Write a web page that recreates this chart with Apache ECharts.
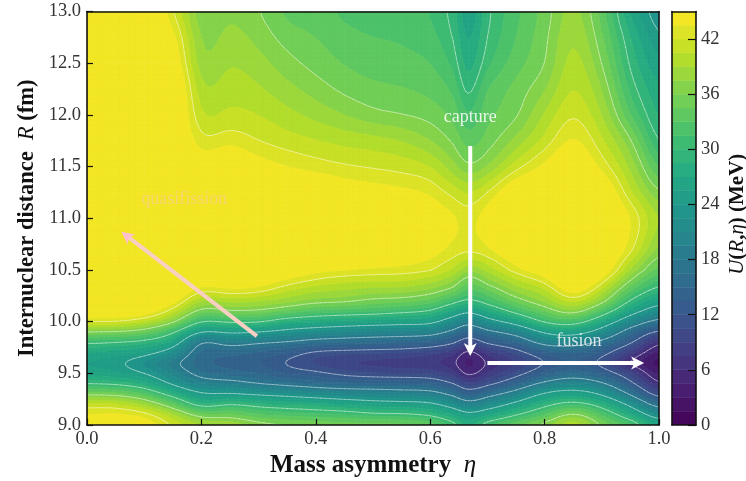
<!DOCTYPE html>
<html><head><meta charset="utf-8">
<style>html,body{margin:0;padding:0;background:#fff}#c{width:746px;height:481px}#c canvas{filter:blur(0.45px)}</style>
<script src="https://cdn.jsdelivr.net/npm/echarts@6/dist/echarts.min.js"></script>
</head><body><div id="c"></div>
<script>
const rows=[9.0,9.1,9.2,9.3,9.4,9.5,9.6,9.7,9.8,9.9,10.0,10.1,10.2,10.3,10.4,10.5,10.7,11.0,11.25,11.5,11.75,12.0,12.25,12.5,12.75,13.0];
const etas=[0,0.05,0.1,0.15,0.2,0.25,0.3,0.35,0.4,0.45,0.5,0.55,0.6,0.64,0.667,0.7,0.75,0.8,0.85,0.9,0.95,1.0];
const u000=[46,43.5,41,35.5,30,26.6,25.5,27,30.6,36,42,45.5,47,47,47,47,47,47,47,47,47,47,47,47,47,47];
const u005=[46,43.7,40.8,35.2,29.5,25.8,24.6,26.3,30,35.7,42,45.5,47,47,47,47,47,47,47,47,47,47,47,47,47,47];
const u010=[45,42.8,38.6,33,27.8,24,22.2,25.2,29,34.5,40.3,45,47,47,47,47,47,47,47,47,47,47,47,47,47,47];
const u015=[42,39.2,34,28.5,23.5,20.5,18.8,22,26.2,30.6,36.6,41,44.5,46.5,47,47,47,47,47,47,47,47,47,45.5,44.3,42];
const u020=[39.5,34.8,28.8,24.5,20,16.8,15.5,16,18,24,30,35,38.8,42.4,45,47,47,47,47,45,42.5,40.6,39.3,38,37.2,36.4];
const u025=[39,34.8,30,24.3,19.4,15.7,14.5,15.6,19.5,24.6,30.5,35.7,39.5,43,45.5,47,47,47,47,46,43,40.9,39.9,38.9,38,37.2];
const u030=[37.2,33.2,28.9,23.5,18,15,13.5,14.8,18.5,24,30.3,35.5,39,42.5,45,47,47,47,47,44.5,42,40.5,39.2,38.1,37,36];
const u035=[36.4,32.5,28.2,22.7,17,13.4,11.8,13.4,17.7,22.8,28,34,38,40.6,43.2,45.5,47,47,46,43.5,41.2,39.5,38,36.6,35.3,34];
const u040=[36,32,27.6,21.8,16,12.6,10.2,11.5,16.5,21.7,27.2,32.5,36.8,39.3,41.8,44,47,47,46,42.8,40.6,38.5,36.8,35.4,34.5,33.5];
const u045=[35.5,31.6,26.7,21,15.3,11.3,9.1,11,16,21,26.5,32,36.4,38.8,41,43.4,47,47,45,42.2,40,37.5,35.6,34.4,33.5,32.6];
const u050=[35.6,30.7,25.8,20.6,15.1,10.6,8.6,10.7,15.6,20.5,26,31.5,35.4,38.2,40.7,43,46.5,47,44.5,41.8,39.6,36.5,34.9,33.8,33,32.3];
const u055=[35.4,30.5,25.5,20,15,10.3,8.2,10.4,15.2,20.2,25.5,30.7,35,38,40.7,42.7,46,47,44,41.4,39,36,34.6,33.5,32.8,32.2];
const u060=[34.4,29.5,24.8,19.6,14.5,10,7.8,9.5,14.5,19.7,25,29.6,33.8,37,39.6,42,44.5,45,43.2,40.5,37.5,35.4,34,33,32,31.3];
const u064=[31.2,27,22.1,17,12,8.3,6.4,8,12.5,17,21.6,26.5,31,35,37.7,40,43,43.8,41.4,38,35.7,34,32.6,31,29.9,29.2];
const u067=[28.5,25,19.8,14.2,9.2,5.4,4,5.3,9.8,14.7,19.4,24.7,29.5,32.5,35,37.7,42.5,42.9,40.4,36.3,33.8,31.6,29.4,27.7,26.7,25.5];
const u070=[31.6,26.6,21.5,16.4,11,7.6,6.2,8,12.6,17,22.3,27,31.2,34.2,37,39.2,43.2,44.5,42,37.5,35.1,34,33,31,30,29.5];
const u075=[34.5,29.8,25.2,20,14.8,10.8,9,10.8,14.9,19.8,25.7,31,34.9,37.8,40.2,42.7,46,47,46,41.3,38,35.7,35,33.8,33,32.5];
const u080=[37,33,29,24.5,19,14.2,12,14,19.5,24.6,30.4,34.4,37.8,40,42.7,45,47,47,46,44,41,39.2,37.3,35.9,35.5,35];
const u085=[40.5,36.5,31.2,26,20.8,16,13.5,15,20,25.8,31.6,37,41,44.5,47,47,47,47,47,46,43.8,41.9,40.6,39.7,38.9,38];
const u090=[36,32.7,28.5,23.5,18.6,14,11.3,13.2,17,22,27,32.2,37,40,43,45.5,47,47,46,43,40.8,39,37.5,36,34.8,33.7];
const u095=[32.5,27.5,23,17.5,13,9.5,5.8,8.4,12.5,16,21,25.8,29.7,33,36,38.6,42.5,43.6,40.8,38.6,36.3,33,31,29.6,28.5,26.5];
const u100=[26.5,21.3,15.6,9.8,5.7,3.2,2,3.4,6,11,16.4,21.2,25.2,28.5,31,33.1,36.4,38.5,35.8,32.3,29.2,27.8,26.9,25.4,23.8,22.5];
const columns=[u000,u005,u010,u015,u020,u025,u030,u035,u040,u045,u050,u055,u060,u064,u067,u070,u075,u080,u085,u090,u095,u100];
const fillLevels=[0,1.5,3,4.5,6,7.5,9,10.5,12,13.5,15,16.5,18,19.5,21,22.5,24,25.5,27,28.5,30,31.5,33,34.5,36,37.5,39,40.5,42,43.5,45];
const lineLevels=[6,12,18,24,30,36,42];
const viridis=['#440154','#482475','#414487','#355f8d','#2a788e','#21918c','#22a884','#44bf70','#7ad151','#bddf26','#fde725'];
const arrows=[{from:[0.67,11.7],to:[0.67,9.667],line:'#ffffff',head:'#ffffff'},
              {from:[0.7,9.6],to:[0.974,9.6],line:'#ffffff',head:'#ffffff'},
              {from:[0.297,9.86],to:[0.06,10.87],line:'#f9cfc2',head:'#fbc0cb'}];
const notes=[{text:'capture',at:[0.67,11.98],color:'rgba(255,255,255,0.85)'},
             {text:'fusion',at:[0.86,9.81],color:'rgba(255,255,255,0.8)'},
             {text:'quasifission',at:[0.17,11.185],color:'rgba(255,192,203,0.45)'}];

const SERIF='"Liberation Serif",serif';
function hex(c){return [1,3,5].map(k=>parseInt(c.substr(k,2),16));}
function cmap(t){t=Math.max(0,Math.min(1,t))*10;const i=Math.min(9,Math.floor(t)),f=t-i,a=hex(viridis[i]),b=hex(viridis[i+1]);
  return 'rgb('+a.map((v,k)=>Math.round(v+(b[k]-v)*f)).join(',')+')';}
const VMAX=fillLevels[fillLevels.length-1];
const bandColors=fillLevels.slice(0,-1).map((l,k)=>cmap((l+fillLevels[k+1])/2/VMAX));

// Contouring helper: smooth surface through the read values, sampled inside each cell for drawing only
const NE=6,NR=5;
function tangents(xs,ys){const n=xs.length,m=[];for(let i=0;i<n;i++){
  if(i===0)m.push((ys[1]-ys[0])/(xs[1]-xs[0]));
  else if(i===n-1)m.push((ys[n-1]-ys[n-2])/(xs[n-1]-xs[n-2]));
  else m.push((ys[i+1]-ys[i-1])/(xs[i+1]-xs[i-1]));}return m;}
function herm(x0,x1,y0,y1,m0,m1,t){const h=x1-x0,t2=t*t,t3=t2*t;
  return (2*t3-3*t2+1)*y0+(t3-2*t2+t)*h*m0+(-2*t3+3*t2)*y1+(t3-t2)*h*m1;}
function refine(xs,ys,N){const m=tangents(xs,ys),o=[];for(let i=0;i<xs.length-1;i++)for(let s=0;s<N;s++)o.push(herm(xs[i],xs[i+1],ys[i],ys[i+1],m[i],m[i+1],s/N));o.push(ys[ys.length-1]);return o;}
const colFine=columns.map(c=>refine(rows,c,NR));
const nRf=colFine[0].length;
let surf=[];for(let r=0;r<nRf;r++){surf.push(refine(etas,colFine.map(c=>c[r]),NE));}
const kern=[1,2,3,2,1];
function blurLine(a){return a.map((_,i)=>{let s=0,w=0;kern.forEach((k,o)=>{const p=i+o-2;if(p>=0&&p<a.length){s+=k*a[p];w+=k;}});return s/w;});}
surf=surf.map(blurLine);
{const nc=surf[0].length;for(let c=0;c<nc;c++){const b=blurLine(surf.map(r=>r[c]));b.forEach((v,r)=>{surf[r][c]=v;});}}
function fineCoord(list,N,k){const i=Math.min(list.length-2,Math.floor(k/N)),s=k-i*N;return list[i]+(list[i+1]-list[i])*s/N;}
function clip(poly,lev,keepAbove){const o=[];for(let i=0;i<poly.length;i++){const a=poly[i],b=poly[(i+1)%poly.length];
  const ia=keepAbove?a[2]>=lev:a[2]<=lev, ib=keepAbove?b[2]>=lev:b[2]<=lev;
  if(ia)o.push(a);
  if(ia!==ib){const t=(lev-a[2])/(b[2]-a[2]);o.push([a[0]+(b[0]-a[0])*t,a[1]+(b[1]-a[1])*t,lev]);}}return o;}

const cellData=[];etas.forEach((e,i)=>rows.forEach((r,j)=>cellData.push([e,r,columns[i][j]])));

function renderCell(params,api){
  const nR=rows.length,idx=params.dataIndex,i=Math.floor(idx/nR),j=idx%nR;
  if(i>=etas.length-1||j>=nR-1)return null;
  const bandPaths={},linePaths={};
  const pt=(x,y)=>{const p=api.coord([x,y]);return p[0].toFixed(2)+' '+p[1].toFixed(2);};
  for(let a=0;a<NE;a++)for(let b=0;b<NR;b++){
    const ka=i*NE+a,kb=j*NR+b;
    const x0=fineCoord(etas,NE,ka),x1=fineCoord(etas,NE,ka+1),y0=fineCoord(rows,NR,kb),y1=fineCoord(rows,NR,kb+1);
    const cl=v=>Math.min(v,VMAX-0.001);
    const raw=[[x0,y0,surf[kb][ka]],[x1,y0,surf[kb][ka+1]],[x1,y1,surf[kb+1][ka+1]],[x0,y1,surf[kb+1][ka]]];
    const q=raw.map(v=>[v[0],v[1],cl(Math.max(v[2],0.001))]);
    const vs=q.map(v=>v[2]),mn=Math.min(...vs),mx=Math.max(...vs);
    for(let k=0;k<fillLevels.length-1;k++){
      const lo=fillLevels[k],hi=fillLevels[k+1];
      if(mx<lo||mn>=hi)continue;
      let poly=q;
      if(mn<lo)poly=clip(poly,lo,true);
      if(mx>hi)poly=clip(poly,hi,false);
      if(poly.length<3)continue;
      bandPaths[k]=(bandPaths[k]||'')+'M'+poly.map(p=>pt(p[0],p[1])).join('L')+'Z';
    }
    for(const L of lineLevels){
      if(mn>=L||mx<=L)continue;
      const cross=[];for(let e=0;e<4;e++){const A=q[e],B=q[(e+1)%4];
        if((A[2]<L)!==(B[2]<L)){const t=(L-A[2])/(B[2]-A[2]);cross.push([A[0]+(B[0]-A[0])*t,A[1]+(B[1]-A[1])*t]);}}
      let s='';for(let c=0;c+1<cross.length;c+=2)s+='M'+pt(cross[c][0],cross[c][1])+'L'+pt(cross[c+1][0],cross[c+1][1]);
      linePaths[L]=(linePaths[L]||'')+s;
    }
  }
  const children=[];
  for(const k in bandPaths){children.push({type:'path',shape:{pathData:bandPaths[k]},z2:1,silent:true,
    style:{fill:bandColors[k],stroke:bandColors[k],lineWidth:0.7}});}
  for(const L in linePaths){children.push({type:'path',shape:{pathData:linePaths[L]},z2:5,silent:true,
    style:{fill:null,stroke:'rgba(255,255,255,0.45)',lineWidth:0.9,lineCap:'round'}});}
  return {type:'group',children};
}
function renderBand(params,api){
  const a=api.coord([0,api.value(0)]),b=api.coord([1,api.value(1)]);
  return {type:'rect',shape:{x:a[0],y:b[1],width:b[0]-a[0],height:a[1]-b[1]},silent:true,
    style:{fill:bandColors[params.dataIndex],stroke:bandColors[params.dataIndex],lineWidth:0.5}};
}
function renderArrow(params,api){
  const A=arrows[params.dataIndex],p=api.coord(A.from),q=api.coord(A.to);
  const dx=q[0]-p[0],dy=q[1]-p[1],n=Math.hypot(dx,dy),ux=dx/n,uy=dy/n,L=12,W=6.5;
  const bx=q[0]-ux*L,by=q[1]-uy*L,nx=-uy,ny=ux;
  return {type:'group',children:[
    {type:'line',shape:{x1:p[0],y1:p[1],x2:bx+ux*3,y2:by+uy*3},z2:20,silent:true,style:{stroke:A.line,lineWidth:4}},
    {type:'polygon',shape:{points:[q,[bx+nx*W-ux*1,by+ny*W-uy*1],[bx+ux*2.5,by+uy*2.5],[bx-nx*W-ux*1,by-ny*W-uy*1]]},z2:21,silent:true,style:{fill:A.head}}
  ]};
}
function renderNote(params,api){
  const N=notes[params.dataIndex],p=api.coord(N.at);
  return {type:'text',x:p[0],y:p[1],z2:22,silent:true,
    style:{text:N.text,fill:N.color,font:'18px '+SERIF,align:'center',verticalAlign:'middle'}};
}
const frame={show:true,onZero:false,lineStyle:{color:'#111',width:1.6}};
const off={show:false};
const chart=echarts.init(document.getElementById('c'),null,{renderer:'canvas'});
chart.setOption({
  animation:false,
  backgroundColor:'#fff',
  grid:[{left:87,right:87,top:11.5,bottom:56,outerBoundsMode:'none'},{left:672,width:24,top:11.5,bottom:56,outerBoundsMode:'none'}],
  xAxis:[
    {gridIndex:0,type:'value',min:0,max:1,interval:0.2,z:30,axisLine:frame,
     axisTick:{inside:true,length:6,lineStyle:{color:'#111',width:1.2}},splitLine:off,
     axisLabel:{color:'#333',fontFamily:SERIF,fontSize:18.5,margin:5,formatter:v=>v.toFixed(1)},
     name:'Mass asymmetry  {i|η}',nameLocation:'middle',nameGap:28,nameMoveOverlap:false,
     nameTextStyle:{color:'#111',fontFamily:SERIF,fontSize:25,fontWeight:'bold',
       rich:{i:{fontFamily:SERIF,fontSize:25,fontStyle:'italic',fontWeight:'normal',color:'#111'}}}},
    {gridIndex:0,type:'value',min:0,max:1,position:'top',z:30,axisLine:frame,axisTick:off,axisLabel:off,splitLine:off},
    {gridIndex:1,type:'value',min:0,max:1,z:30,axisLine:frame,axisTick:off,axisLabel:off,splitLine:off},
    {gridIndex:1,type:'value',min:0,max:1,position:'top',z:30,axisLine:frame,axisTick:off,axisLabel:off,splitLine:off}
  ],
  yAxis:[
    {gridIndex:0,type:'value',min:9,max:13,interval:0.5,z:30,axisLine:frame,
     axisTick:{inside:true,length:6,lineStyle:{color:'#111',width:1.2}},splitLine:off,
     axisLabel:{color:'#333',fontFamily:SERIF,fontSize:18.5,margin:6,formatter:v=>v.toFixed(1)},
     name:'Internuclear distance  {i|R} (fm)',nameLocation:'middle',nameGap:48,nameMoveOverlap:false,
     nameTextStyle:{color:'#111',fontFamily:SERIF,fontSize:22.5,fontWeight:'bold',
       rich:{i:{fontFamily:SERIF,fontSize:22.5,fontStyle:'italic',fontWeight:'normal',color:'#111'}}}},
    {gridIndex:0,type:'value',min:9,max:13,position:'right',z:30,axisLine:frame,axisTick:off,axisLabel:off,splitLine:off},
    {gridIndex:1,type:'value',min:0,max:45,interval:6,position:'right',z:30,axisLine:frame,
     axisTick:{inside:true,length:8,lineStyle:{color:'#111',width:1.2}},splitLine:off,
     axisLabel:{color:'#333',fontFamily:SERIF,fontSize:18.5,margin:5,showMaxLabel:false},
     name:'{i|U}({i|R},{i|η}) (MeV)',nameLocation:'middle',nameGap:31,nameRotate:90,nameMoveOverlap:false,
     nameTextStyle:{color:'#111',fontFamily:SERIF,fontSize:21,fontWeight:'bold',padding:[0,0,0,8],
       rich:{i:{fontFamily:SERIF,fontSize:21,fontStyle:'italic',fontWeight:'normal',color:'#111'}}}},
    {gridIndex:1,type:'value',min:0,max:45,position:'left',z:30,axisLine:frame,axisTick:off,axisLabel:off,splitLine:off}
  ],
  series:[
    {type:'custom',name:'U(R,eta)',xAxisIndex:0,yAxisIndex:0,coordinateSystem:'cartesian2d',clip:true,
     encode:{x:0,y:1},data:cellData,renderItem:renderCell,z:2},
    {type:'custom',name:'colorbar',xAxisIndex:2,yAxisIndex:2,coordinateSystem:'cartesian2d',clip:true,
     encode:{y:[0,1]},data:fillLevels.slice(0,-1).map((l,k)=>[l,fillLevels[k+1]]),renderItem:renderBand,z:2},
    {type:'custom',name:'paths',xAxisIndex:0,yAxisIndex:0,coordinateSystem:'cartesian2d',clip:false,
     data:arrows.map(a=>a.to),encode:{x:0,y:1},renderItem:renderArrow,z:5},
    {type:'custom',name:'labels',xAxisIndex:0,yAxisIndex:0,coordinateSystem:'cartesian2d',clip:false,
     data:notes.map(n=>n.at),encode:{x:0,y:1},renderItem:renderNote,z:6}
  ]
});
</script></body></html>
